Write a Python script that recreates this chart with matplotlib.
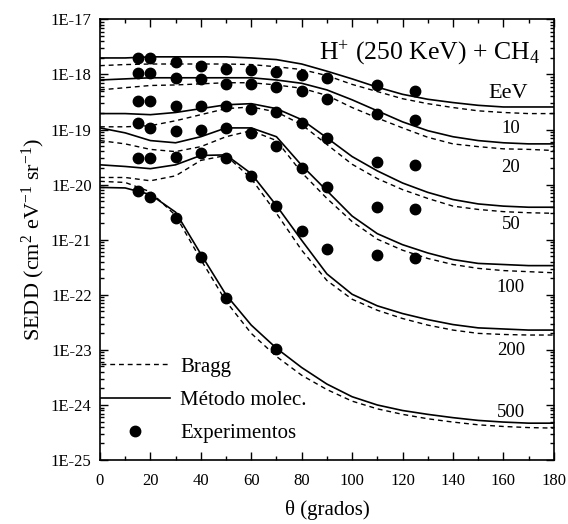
import numpy as np
import matplotlib.pyplot as plt
from matplotlib.ticker import FixedLocator, FuncFormatter, LogLocator, MultipleLocator, NullFormatter
from matplotlib.lines import Line2D

plt.rcParams['font.family'] = ['Liberation Serif', 'DejaVu Serif']
plt.rcParams['mathtext.fontset'] = 'custom'
plt.rcParams['mathtext.rm'] = 'Liberation Serif'
plt.rcParams['mathtext.it'] = 'Liberation Serif:italic'

# angulo (grados) para las curvas teoricas
theta = [0, 10, 20, 30, 40, 50, 60, 70, 80, 90, 100, 110, 120, 130, 140, 150, 160, 170, 180]

# log10 de la SEDD, metodo molecular (linea continua)
mol_10 = [-17.70, -17.70, -17.68, -17.68, -17.68, -17.68, -17.70, -17.73, -17.81, -17.94,
          -18.08, -18.23, -18.36, -18.45, -18.51, -18.56, -18.59, -18.59, -18.59]
mol_20 = [-18.10, -18.08, -18.06, -18.06, -18.06, -18.06, -18.06, -18.10, -18.16, -18.28,
          -18.46, -18.66, -18.86, -19.02, -19.13, -19.20, -19.24, -19.26, -19.26]
mol_50 = [-18.71, -18.71, -18.73, -18.69, -18.62, -18.55, -18.53, -18.62, -18.82, -19.15,
          -19.49, -19.75, -19.97, -20.14, -20.27, -20.35, -20.39, -20.41, -20.41]
mol_100 = [-18.97, -19.06, -19.20, -19.24, -19.13, -18.97, -18.97, -19.13, -19.65, -20.11,
           -20.57, -20.89, -21.09, -21.24, -21.36, -21.43, -21.45, -21.47, -21.47]
mol_200 = [-19.64, -19.67, -19.71, -19.64, -19.47, -19.46, -19.80, -20.38, -21.01, -21.62,
           -21.99, -22.20, -22.34, -22.45, -22.54, -22.60, -22.62, -22.64, -22.64]
mol_500 = [-20.05, -20.06, -20.18, -20.50, -21.26, -22.00, -22.55, -22.97, -23.32, -23.62,
           -23.85, -24.00, -24.10, -24.17, -24.23, -24.28, -24.31, -24.33, -24.33]

# log10 de la SEDD, aproximacion de Bragg (linea discontinua)
bragg_10 = [-17.84, -17.82, -17.81, -17.81, -17.81, -17.81, -17.82, -17.86, -17.91, -18.02,
            -18.18, -18.31, -18.44, -18.53, -18.60, -18.66, -18.69, -18.71, -18.71]
bragg_20 = [-18.28, -18.24, -18.20, -18.19, -18.17, -18.15, -18.15, -18.19, -18.25, -18.38,
            -18.60, -18.79, -18.97, -19.14, -19.26, -19.31, -19.35, -19.36, -19.38]
bragg_50 = [-18.95, -18.95, -18.93, -18.84, -18.73, -18.62, -18.59, -18.68, -18.91, -19.27,
            -19.63, -19.89, -20.09, -20.25, -20.39, -20.45, -20.49, -20.51, -20.52]
bragg_100 = [-19.20, -19.26, -19.36, -19.40, -19.31, -19.13, -19.02, -19.20, -19.78, -20.25,
             -20.67, -20.99, -21.19, -21.34, -21.45, -21.52, -21.56, -21.58, -21.60]
bragg_200 = [-19.87, -19.87, -19.93, -19.84, -19.56, -19.47, -19.89, -20.52, -21.19, -21.74,
             -22.08, -22.28, -22.43, -22.55, -22.64, -22.70, -22.72, -22.73, -22.73]
bragg_500 = [-19.94, -19.96, -20.13, -20.56, -21.36, -22.12, -22.70, -23.12, -23.46, -23.72,
             -23.93, -24.07, -24.17, -24.25, -24.31, -24.36, -24.39, -24.41, -24.42]

# datos experimentales (log10)
theta_exp = [15, 20, 30, 40, 50, 60, 70, 80, 90, 110, 125]
theta_exp_500 = [15, 20, 30, 40, 50, 70]
exp_10 = [-17.70, -17.70, -17.77, -17.84, -17.90, -17.91, -17.95, -18.01, -18.06, -18.20, -18.30]
exp_20 = [-17.97, -17.97, -18.06, -18.08, -18.17, -18.17, -18.22, -18.30, -18.44, -18.71, -18.82]
exp_50 = [-18.49, -18.49, -18.57, -18.57, -18.57, -18.62, -18.69, -18.89, -19.15, -19.58, -19.65]
exp_100 = [-18.88, -18.97, -19.02, -19.00, -18.97, -19.07, -19.29, -19.69, -20.05, -20.40, -20.45]
exp_200 = [-19.51, -19.51, -19.49, -19.42, -19.51, -19.84, -20.38, -20.85, -21.16, -21.27, -21.34]
exp_500 = [-20.11, -20.23, -20.61, -21.32, -22.05, -22.99]

energias = ['10', '20', '50', '100', '200', '500']
mol = [mol_10, mol_20, mol_50, mol_100, mol_200, mol_500]
bragg = [bragg_10, bragg_20, bragg_50, bragg_100, bragg_200, bragg_500]
exper = [exp_10, exp_20, exp_50, exp_100, exp_200, exp_500]
theta_e = [theta_exp] * 5 + [theta_exp_500]

fig = plt.figure(figsize=(5.68, 5.24), dpi=100)
ax = fig.add_axes([0.176, 0.122, 0.799, 0.841])

for m, b, e, te in zip(mol, bragg, exper, theta_e):
    ax.plot(theta, 10.0 ** np.array(b), color='black', lw=1.0, dashes=(3.5, 2.8))
    ax.plot(theta, 10.0 ** np.array(m), color='black', lw=1.2)
    ax.plot(te, 10.0 ** np.array(e), 'o', color='black', ms=7.5)

ax.set_yscale('log')
ax.set_xlim(0, 180)
ax.set_ylim(1e-25, 1e-17)

ax.xaxis.set_major_locator(MultipleLocator(20))
ax.xaxis.set_minor_locator(MultipleLocator(10))
ax.yaxis.set_major_locator(FixedLocator([10.0 ** k for k in range(-25, -16)]))
ax.yaxis.set_minor_locator(LogLocator(base=10, subs=np.arange(2, 10), numticks=20))
ax.yaxis.set_minor_formatter(NullFormatter())
ax.yaxis.set_major_formatter(FuncFormatter(lambda v, p: '1E%d' % round(np.log10(v))))
ax.tick_params(which='both', direction='in', top=True, right=True, width=1.0)
ax.tick_params(which='major', length=6, labelsize=12)
ax.tick_params(axis='y', which='major', pad=6)
ax.tick_params(axis='x', which='major', pad=9)
ax.tick_params(which='minor', length=3)
for s in ax.spines.values():
    s.set_linewidth(1.2)

ax.set_xlabel('θ (grados)', fontsize=15, labelpad=8)
ax.set_ylabel(r'SEDD (cm$^{2}$ eV$^{-1}$ sr$^{-1}$)', fontsize=16, labelpad=3)

ax.text(0.725, 0.925, r'H$^{+}$ (250 KeV) + CH$_{4}$', transform=ax.transAxes,
        ha='center', va='center', fontsize=18.5)
ax.text(162, 10 ** -18.35, 'EeV', ha='center', va='center', fontsize=16)
pos_etiq = [-18.98, -19.69, -20.72, -21.86, -23.01, -24.13]
for lab, yl in zip(energias, pos_etiq):
    ax.text(163, 10 ** yl, lab, ha='center', va='center', fontsize=13.5)

handles = [Line2D([], [], color='black', lw=1.0, dashes=(3.5, 2.8)),
           Line2D([], [], color='black', lw=1.2),
           Line2D([], [], color='black', marker='o', ls='none', ms=7.5)]
ax.legend(handles, ['Bragg', 'Método molec.', 'Experimentos'], loc='lower left',
          bbox_to_anchor=(-0.035, 0.0), frameon=False, fontsize=15, handlelength=3.3,
          handletextpad=0.5, labelspacing=0.66, borderpad=0.3)

fig.savefig('out.png', dpi=100)
